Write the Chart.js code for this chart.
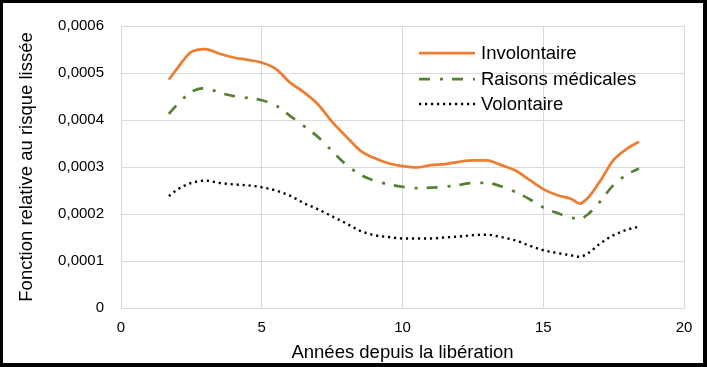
<!DOCTYPE html>
<html>
<head>
<meta charset="utf-8">
<script src="https://cdn.jsdelivr.net/npm/chart.js@4.4.0/dist/chart.umd.min.js"></script>
<style>
  html, body { margin: 0; padding: 0; background: #fff; }
  canvas { display: block; }
</style>
</head>
<body>
<canvas id="chart" width="707" height="367"></canvas>
<script>
// Years since release (x values shared by the three curves)
const years = [1.7, 2.0, 2.5, 3.0, 3.5, 4.0, 4.5, 5.0, 5.5, 6.0, 6.5, 7.0, 7.5, 8.0, 8.5, 9.0,
  9.5, 10.0, 10.5, 11.0, 11.5, 12.0, 12.5, 13.0, 13.5, 14.0, 14.5, 15.0, 15.5, 16.0, 16.3,
  16.6, 17.0, 17.5, 18.0, 18.4];

const involontaire = [0.000486, 0.000510, 0.000545, 0.000551, 0.000541, 0.000533, 0.000528,
  0.000522, 0.000509, 0.000480, 0.000459, 0.000433, 0.000396, 0.000365, 0.000335, 0.000319,
  0.000308, 0.000302, 0.000299, 0.000304, 0.000306, 0.000311, 0.000314, 0.000314, 0.000304,
  0.000293, 0.000273, 0.000253, 0.000240, 0.000232, 0.000222, 0.000235, 0.000268, 0.000315,
  0.000340, 0.000354];

const raisonsMedicales = [0.000413, 0.000433, 0.000460, 0.000468, 0.000458, 0.000451,
  0.000447, 0.000442, 0.000431, 0.000409, 0.000387, 0.000364, 0.000334, 0.000305, 0.000284,
  0.000271, 0.000263, 0.000258, 0.000255, 0.000256, 0.000258, 0.000262, 0.000266, 0.000266,
  0.000259, 0.000247, 0.000232, 0.000214, 0.000202, 0.000192, 0.000190, 0.000200, 0.000225,
  0.000262, 0.000285, 0.000297];

const volontaire = [0.000238, 0.000252, 0.000266, 0.000271, 0.000266, 0.000263, 0.000261,
  0.000257, 0.000250, 0.000239, 0.000223, 0.000210, 0.000195, 0.000180, 0.000164, 0.000155,
  0.000151, 0.000148, 0.000148, 0.000148, 0.000150, 0.000152, 0.000155, 0.000156, 0.000151,
  0.000144, 0.000133, 0.000123, 0.000117, 0.000112, 0.000109, 0.000117, 0.000136, 0.000155,
  0.000167, 0.000173];

const seriesNames = ['Involontaire', 'Raisons médicales', 'Volontaire'];
const xTitle = 'Années depuis la libération';
const yTitle = 'Fonction relative au risque lissée';

const FONT = 'Arial, "Liberation Sans", sans-serif';

const toPoints = (vals) => vals.map((v, i) => ({ x: years[i], y: v }));

const styles = [
  { color: '#ED7D31', dash: [], width: 2.75 },
  { color: '#548235', dash: [11, 10, 3, 9], width: 2.75 },
  { color: '#000000', dash: [2.2, 3.8], width: 2.4 }
];

// White background + black frame round the whole picture
const framePlugin = {
  id: 'frame',
  beforeDraw(chart) {
    const ctx = chart.ctx;
    ctx.save();
    ctx.fillStyle = '#fff';
    ctx.fillRect(0, 0, chart.width, chart.height);
    ctx.restore();
  },
  afterDraw(chart) {
    const ctx = chart.ctx;
    const w = chart.width, h = chart.height;
    ctx.save();
    ctx.fillStyle = '#000';
    ctx.fillRect(0, 0, w, 3);
    ctx.fillRect(0, 0, 3, h);
    ctx.fillRect(w - 4, 0, 4, h);
    ctx.fillRect(0, h - 4, w, 4);
    ctx.restore();
  }
};

// Legend drawn inside the plot, top right, like the Excel original
const insideLegend = {
  id: 'insideLegend',
  afterDatasetsDraw(chart) {
    const ctx = chart.ctx;
    const x0 = 419, x1 = 475, tx = 481;
    const rows = [53, 79, 104];
    ctx.save();
    chart.data.datasets.forEach((ds, i) => {
      const y = rows[i];
      ctx.beginPath();
      ctx.strokeStyle = ds.borderColor;
      ctx.lineWidth = ds.borderWidth;
      ctx.setLineDash(ds.borderDash || []);
      ctx.moveTo(x0, y);
      ctx.lineTo(x1, y);
      ctx.stroke();
      ctx.setLineDash([]);
      ctx.fillStyle = '#000';
      ctx.font = '18.5px ' + FONT;
      ctx.textBaseline = 'middle';
      ctx.textAlign = 'left';
      ctx.fillText(ds.label, tx, y + 1);
    });
    ctx.restore();
  }
};

const datasets = [involontaire, raisonsMedicales, volontaire].map((vals, i) => ({
  label: seriesNames[i],
  data: toPoints(vals),
  borderColor: styles[i].color,
  backgroundColor: styles[i].color,
  borderWidth: styles[i].width,
  borderDash: styles[i].dash,
  borderCapStyle: 'butt',
  pointRadius: 0,
  cubicInterpolationMode: 'monotone',
  fill: false
}));

new Chart(document.getElementById('chart'), {
  type: 'line',
  data: { datasets },
  options: {
    responsive: false,
    animation: false,
    devicePixelRatio: 1,
    layout: { padding: { top: 25, right: 23, left: 0, bottom: 0 } },
    plugins: {
      legend: { display: false },
      tooltip: { enabled: false }
    },
    scales: {
      x: {
        type: 'linear',
        min: 0,
        max: 20,
        afterFit: (scale) => { scale.height = 59; },
        ticks: {
          stepSize: 5,
          padding: 11,
          color: '#000',
          font: { family: FONT, size: 15 }
        },
        grid: { color: '#D9D9D9', drawTicks: false },
        border: { color: '#D9D9D9' },
        title: {
          display: true,
          text: xTitle,
          color: '#000',
          font: { family: FONT, size: 18.5 },
          padding: { top: 0, bottom: 3 }
        }
      },
      y: {
        min: 0,
        max: 0.0006,
        afterFit: (scale) => { scale.width = 121; },
        ticks: {
          stepSize: 0.0001,
          padding: 17,
          color: '#000',
          font: { family: FONT, size: 15 },
          callback: (v) => (Math.abs(v) < 1e-9 ? '0' : v.toFixed(4).replace('.', ','))
        },
        grid: { color: '#D9D9D9', drawTicks: false },
        border: { color: '#D9D9D9' },
        title: {
          display: true,
          text: yTitle,
          color: '#000',
          font: { family: FONT, size: 18.5 },
          padding: { top: 16, bottom: 0 }
        }
      }
    }
  },
  plugins: [framePlugin, insideLegend]
});
</script>
</body>
</html>
